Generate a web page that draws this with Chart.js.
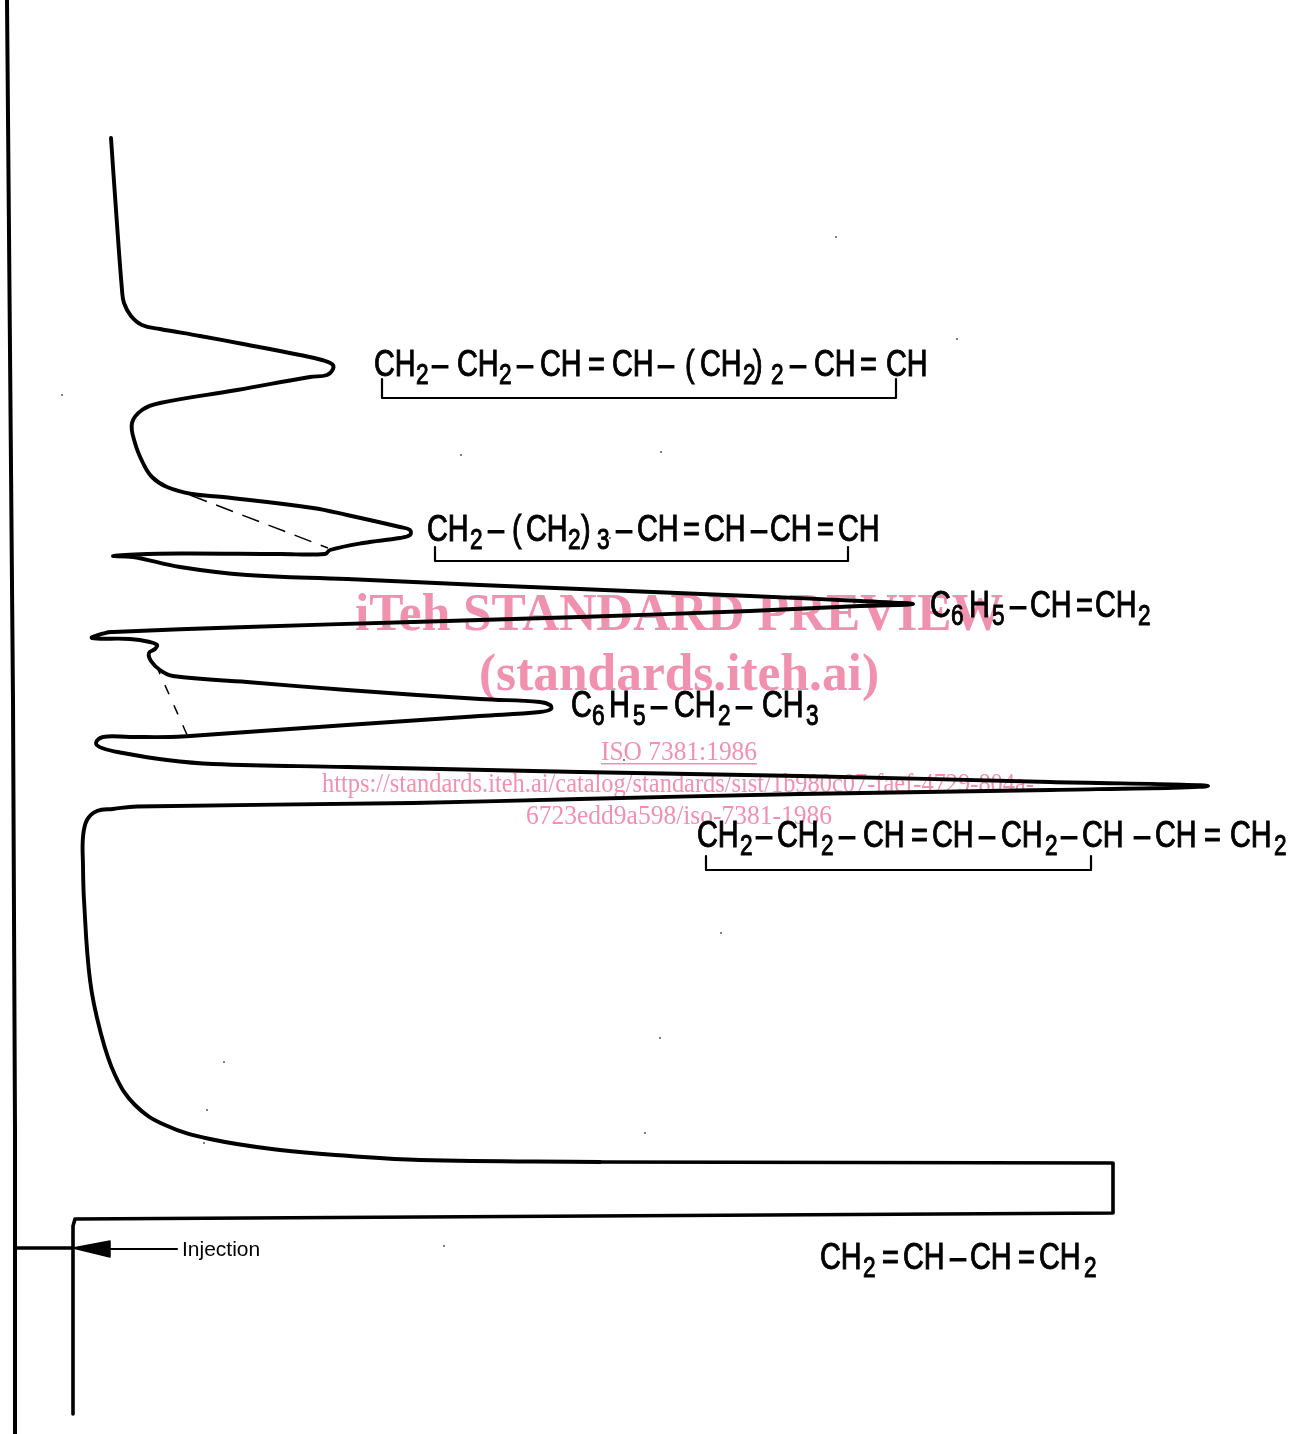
<!DOCTYPE html>
<html>
<head>
<meta charset="utf-8">
<title>Chromatogram</title>
<script src="https://cdn.jsdelivr.net/npm/chart.js@4"></script>
<style>
html, body { margin: 0; padding: 0; background: #fff; }
canvas { display: block; }
</style>
</head>
<body>
<canvas id="myChart" width="1292" height="1434"></canvas>
<script>
// recorder trace (response, time)
var traceResponse = [111,116,122,124,131,142,160,200,243,300,322,332,333,327,310,237,160,142,132,135,143,152,167,192,223,313,347,400,410,410,400,363,330,325,280,180,135,113,133,180,247,347,480,580,750,860,913,
  860,750,580,413,247,113,105,92,130,150,157,155,149,151,160,173,247,347,480,540,550,551,540,480,347,247,190,170,130,103,96,102,123,167,213,347,580,800,1050,1208,
  1050,800,580,413,137,113,97,87,83,83,84,90,100,115,135,165,210,280,350,420,600];
var traceTime = [138,210,290,303,316,325,329,336,344,355,360,364,369,375,377,390,403,410,423,443,463,477,487,494,497,508,515,527,530,535,538,543,550,554,554,553.5,554.5,556,557,567,575,579,585,589,596,601,604,
  606,611,617,622,627,632,633,638,639,642,645,649,653,661,670,676,682,690,699,702,705,709,712,716,725,732,736,737,737,737,743,748,753,760,764,767,772,776,782,786,
  790,794,799,803,806.5,809,811,820,837,865,900,980,1030,1075,1105,1125,1139,1150,1156,1160,1162];
// the off-scale part, pen runs square here
var flatResponse = [600,1113,1113,75,73,73];
var flatTime = [1162,1163,1213,1219,1226,1414];

var edgeResponse = [7,13,15,15];
var edgeTime = [0,700,1130,1434];
var injectionResponse = [15,73];
var injectionTime = [1248,1248];
var arrowResponse = [73,110,110,73];
var arrowTime = [1248,1241,1257,1248];
var leaderResponse = [110,177];
var leaderTime = [1249,1249];

var baseA = [[190,495],[328,548]];
var baseB = [[156,665],[188,737]];
var bracket1 = [[382,379],[382,398],[896,398],[896,379]];
var bracket2 = [[435,547],[435,561],[848,561],[848,547]];
var bracket3 = [[706,856],[706,870],[1091,870],[1091,856]];
var specks = [[836,237],[957,339],[461,455],[661,452],[62,395],[721,933],[660,1038],[224,1062],[207,1110],[204,1143],[645,1133],[444,1246],[610,538],[624,760]];

// formula labels: baseline, then text + where it starts
var formulas = [
  [376, ['CH',374],['2',416,1],['–',432],['CH',457],['2',499,1],['–',517],['CH',540],['=',588],['CH',612],['–',658],['(',685],['CH',700],['2',743,1],[')',753],['2',771,1],['–',790],['CH',814],['=',860],['CH',886]],
  [541, ['CH',427],['2',470,1],['–',488],['(',512],['CH',526],['2',568,1],[')',581],['3',597,1],['–',616],['CH',637],['=',683],['CH',704],['–',751],['CH',770],['=',817],['CH',838]],
  [617, ['C',930],['6',951,1],['H',969],['5',992,1],['–',1010],['CH',1030],['=',1076],['CH',1095],['2',1138,1]],
  [717, ['C',571],['6',592,1],['H',609],['5',633,1],['–',651],['CH',674],['2',718,1],['–',736],['CH',762],['3',806,1]],
  [847, ['CH',697],['2',740,1],['–',756],['CH',777],['2',821,1],['–',839],['CH',863],['=',911],['CH',932],['–',979],['CH',1001],['2',1045,1],['–',1061],['CH',1082],['–',1134],['CH',1155],['=',1204],['CH',1230],['2',1274,1]],
  [1269, ['CH',820],['2',863,1],['=',882],['CH',903],['–',950],['CH',970],['=',1018],['CH',1039],['2',1084,1]]
];

var stamp = [
  ['iTeh STANDARD PREVIEW', 679, 630, 'bold 52px "Liberation Serif"', 648],
  ['(standards.iteh.ai)', 679, 690, 'bold 52px "Liberation Serif"', 400],
  ['ISO 7381:1986', 679, 760, '28px "Liberation Serif"', 156],
  ['https://standards.iteh.ai/catalog/standards/sist/1b980c07-faef-4729-804a-', 678, 792, '27px "Liberation Serif"', 712],
  ['6723edd9a598/iso-7381-1986', 679, 824, '27px "Liberation Serif"', 306]
];

function zip(a, b) {
  return a.map(function (v, i) { return { x: v, y: b[i] }; });
}
function pairs(list) {
  return list.map(function (p) { return { x: p[0], y: p[1] }; });
}
function ink(data, width, extra) {
  return Object.assign({ data: data, showLine: true, borderColor: '#000', borderWidth: width, pointRadius: 0, tension: 0, fill: false, borderCapStyle: 'round', borderJoinStyle: 'round' }, extra || {});
}

var labelsPlugin = {
  id: 'labelsPlugin',
  beforeDraw: function (chart) {
    var c = chart.ctx;
    c.save();
    c.fillStyle = '#fff';
    c.fillRect(0, 0, chart.width, chart.height);
    c.restore();
  },
  afterDraw: function (chart) {
    var c = chart.ctx, sx = chart.scales.x, sy = chart.scales.y;
    c.save();
    c.fillStyle = '#000';
    c.strokeStyle = '#000';
    c.lineWidth = 1;
    c.textAlign = 'left';
    c.textBaseline = 'alphabetic';
    // stencil lettering is narrow and heavy, squeeze the sans and thicken it
    formulas.forEach(function (line) {
      var base = line[0];
      line.slice(1).forEach(function (t) {
        c.save();
        c.translate(sx.getPixelForValue(t[1]), sy.getPixelForValue(t[2] ? base + 8 : base));
        c.scale(0.78, 1);
        c.font = t[2] ? '29px "Liberation Sans"' : '37px "Liberation Sans"';
        c.fillText(t[0], 0, 0);
        c.strokeText(t[0], 0, 0);
        c.restore();
      });
    });
    c.font = '21px "Liberation Sans"';
    c.fillText('Injection', sx.getPixelForValue(182), sy.getPixelForValue(1256));

    // watermark sits over everything
    c.globalCompositeOperation = 'multiply';
    c.fillStyle = 'rgb(240,145,175)';
    c.textAlign = 'center';
    stamp.forEach(function (s) {
      c.font = s[3];
      c.fillText(s[0], sx.getPixelForValue(s[1]), sy.getPixelForValue(s[2]), s[4]);
    });
    c.fillRect(sx.getPixelForValue(601), sy.getPixelForValue(763), 156, 1.5);
    c.restore();
  }
};

new Chart(document.getElementById('myChart'), {
  type: 'scatter',
  data: {
    datasets: [
      ink(zip(traceResponse, traceTime), 3.9, { tension: 0.4, label: 'trace' }),
      ink(zip(flatResponse, flatTime), 3.6),
      ink(zip(edgeResponse, edgeTime), 4),
      ink(zip(injectionResponse, injectionTime), 3.4),
      ink(zip(arrowResponse, arrowTime), 1.5, { backgroundColor: '#000', fill: 'shape' }),
      ink(zip(leaderResponse, leaderTime), 2.2),
      ink(pairs(baseA), 1.5, { borderDash: [18, 10], borderCapStyle: 'butt' }),
      ink(pairs(baseB), 1.5, { borderDash: [10, 12], borderCapStyle: 'butt' }),
      ink(pairs(bracket1), 2.2),
      ink(pairs(bracket2), 2.2),
      ink(pairs(bracket3), 2.2),
      { data: pairs(specks), showLine: false, pointRadius: 0.9, pointBorderWidth: 0, pointBackgroundColor: '#444' }
    ]
  },
  options: {
    responsive: false,
    animation: false,
    layout: { padding: 0, autoPadding: false },
    plugins: { legend: { display: false }, tooltip: { enabled: false } },
    scales: {
      x: { type: 'linear', display: false, min: 0, max: 1292 },
      y: { type: 'linear', display: false, min: 0, max: 1434, reverse: true }
    }
  },
  plugins: [labelsPlugin]
});
</script>
</body>
</html>
